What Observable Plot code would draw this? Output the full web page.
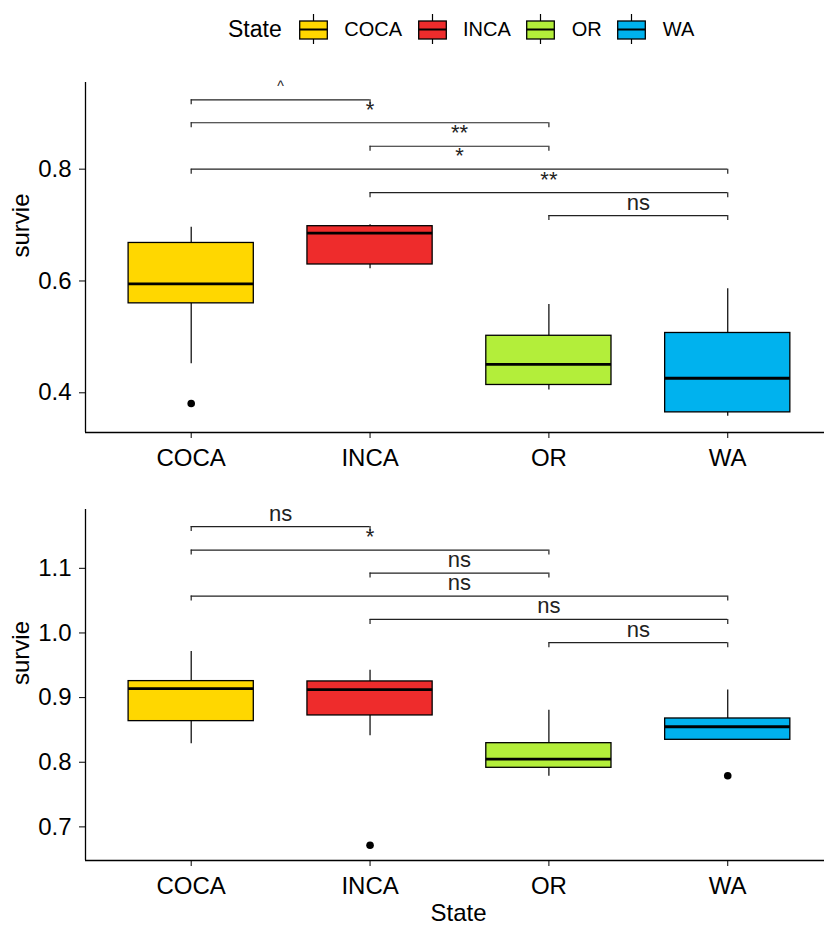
<!DOCTYPE html>
<html>
<head>
<meta charset="utf-8">
<script src="https://cdn.jsdelivr.net/npm/d3@7"></script>
<script src="https://cdn.jsdelivr.net/npm/@observablehq/plot@0.6"></script>
<style>
  body { margin: 0; background: #fff; font-family: "Liberation Sans", Arial, sans-serif; }
  #wrap { position: relative; width: 824px; height: 927px; overflow: hidden; background: #fff; }
  #legend { position: absolute; left: 228px; top: 14px; height: 30px; display: flex; align-items: center; color: #000; }
  #legend .title { font-size: 23px; margin-right: 17px; }
  #legend .lab { font-size: 20px; margin-right: 15.5px; }
  #legend svg { margin-right: 16.5px; display: block; }
  #p1 { position: absolute; left: 0; top: 60px; }
  #p2 { position: absolute; left: 0; top: 480px; }
</style>
</head>
<body>
<div id="wrap">
  <div id="legend"></div>
  <div id="p1"></div>
  <div id="p2"></div>
</div>
<script>
// ---------- data ----------
const states = ["COCA", "INCA", "OR", "WA"];
const colors = ["#FFD700", "#EE2C2C", "#B3EE3A", "#00B2EE"];

// comparisons (brackets), in drawing order from top to bottom
const pairA = ["COCA", "COCA", "INCA", "COCA", "INCA", "OR"];
const pairB = ["INCA", "OR", "OR", "WA", "WA", "WA"];

// Panel 1 box statistics
const p1Low = [0.452, 0.622, 0.405, 0.358];
const p1Q1  = [0.560, 0.6295, 0.414, 0.365];
const p1Med = [0.595, 0.6855, 0.451, 0.426];
const p1Q3  = [0.668, 0.698, 0.502, 0.507];
const p1High = [0.696, 0.7005, 0.558, 0.586];
const p1OutState = ["COCA"];
const p1OutValue = [0.381];
const p1BracketY = [0.924, 0.883, 0.841, 0.800, 0.758, 0.717];
const p1Labels = ["^", "*", "**", "*", "**", "ns"];
const p1Ticks = [0.4, 0.6, 0.8];

// Panel 2 box statistics
const p2Low = [0.8285, 0.841, 0.7784, 0.8347];
const p2Q1  = [0.8636, 0.8724, 0.7914, 0.8347];
const p2Med = [0.914, 0.9122, 0.8047, 0.8549];
const p2Q3  = [0.9255, 0.925, 0.8295, 0.8677];
const p2High = [0.9715, 0.9425, 0.8806, 0.9116];
const p2OutState = ["INCA", "WA"];
const p2OutValue = [0.6715, 0.779];
const p2BracketY = [1.1646, 1.1283, 1.0927, 1.0571, 1.021, 0.985];
const p2Labels = ["ns", "*", "ns", "ns", "ns", "ns"];
const p2Ticks = [0.7, 0.8, 0.9, 1.0, 1.1];

// ---------- drawing ----------
const FONT = '"Liberation Sans", Arial, sans-serif';
const xDom = [0.409, 4.541];
const halfBox = 0.35;

function panel(cfg) {
  const rows = states.map((s, i) => ({
    pos: i + 1, state: s,
    lo: cfg.lo[i], q1: cfg.q1[i], med: cfg.med[i], q3: cfg.q3[i], hi: cfg.hi[i]
  }));
  const outs = cfg.outState.map((s, k) => ({ pos: states.indexOf(s) + 1, value: cfg.outValue[k] }));
  const br = pairA.map((a, k) => ({
    a: states.indexOf(a) + 1, b: states.indexOf(pairB[k]) + 1,
    y: cfg.brY[k], label: cfg.labels[k]
  }));
  const small = br.filter(d => d.label === "^");
  const big = br.filter(d => d.label !== "^");
  const marks = [
    // whiskers
    Plot.ruleX(rows, { x: "pos", y1: "q3", y2: "hi", stroke: "black", strokeWidth: 1.2 }),
    Plot.ruleX(rows, { x: "pos", y1: "lo", y2: "q1", stroke: "black", strokeWidth: 1.2 }),
    // boxes
    Plot.rect(rows, { x1: d => d.pos - halfBox, x2: d => d.pos + halfBox, y1: "q1", y2: "q3",
      fill: "state", stroke: "black", strokeWidth: 1.3 }),
    // medians
    Plot.ruleY(rows, { y: "med", x1: d => d.pos - halfBox, x2: d => d.pos + halfBox, stroke: "black", strokeWidth: 2.8 }),
    // outliers
    Plot.dot(outs, { x: "pos", y: "value", r: 3.8, fill: "black", stroke: null }),
    // brackets
    Plot.ruleY(br, { y: "y", x1: "a", x2: "b", stroke: "#222", strokeWidth: 1.2 }),
    Plot.ruleX(br, { x: "a", y1: "y", y2: d => d.y - cfg.tip, stroke: "#222", strokeWidth: 1.2 }),
    Plot.ruleX(br, { x: "b", y1: "y", y2: d => d.y - cfg.tip, stroke: "#222", strokeWidth: 1.2 }),
    Plot.text(big, { x: d => (d.a + d.b) / 2, y: "y", text: "label", fontSize: 22, dy: -13, fill: "#222" }),
    Plot.text(small, { x: d => (d.a + d.b) / 2, y: "y", text: "label", fontSize: 14, dy: -13, fill: "#222" }),
    // axis lines
    Plot.ruleY([cfg.yDom[0]], { stroke: "black", strokeWidth: 1.3 }),
    Plot.ruleX([xDom[0]], { stroke: "black", strokeWidth: 1.3 }),
    Plot.axisY({ ticks: cfg.ticks, tickFormat: ".1f", tickSize: 6, tickPadding: 8, fontSize: 24, label: null }),
    Plot.axisX({ ticks: [1, 2, 3, 4], tickFormat: d => states[d - 1], tickSize: 6, tickPadding: 10, fontSize: 24, label: null }),
    Plot.text(["survie"], { frameAnchor: "left", rotate: -90, dx: -64, fontSize: 24, fill: "black" })
  ];
  if (cfg.xTitle) {
    marks.push(Plot.text([cfg.xTitle], { frameAnchor: "bottom", dx: 3.5, dy: 60, fontSize: 24, fill: "black" }));
  }
  return Plot.plot({
    width: 824, height: cfg.height,
    marginLeft: 85, marginRight: 0, marginTop: cfg.mt, marginBottom: cfg.mb,
    x: { type: "linear", domain: xDom },
    y: { domain: cfg.yDom },
    color: { domain: states, range: colors },
    style: { fontFamily: FONT, color: "black", background: "white", overflow: "visible" },
    marks
  });
}

document.getElementById("p1").appendChild(panel({
  lo: p1Low, q1: p1Q1, med: p1Med, q3: p1Q3, hi: p1High,
  outState: p1OutState, outValue: p1OutValue,
  brY: p1BracketY, labels: p1Labels, ticks: p1Ticks,
  yDom: [0.329, 0.955], tip: 0.009,
  height: 420, mt: 22, mb: 48
}));

document.getElementById("p2").appendChild(panel({
  lo: p2Low, q1: p2Q1, med: p2Med, q3: p2Q3, hi: p2High,
  outState: p2OutState, outValue: p2OutValue,
  brY: p2BracketY, labels: p2Labels, ticks: p2Ticks,
  yDom: [0.648, 1.191], tip: 0.0078,
  height: 447, mt: 29, mb: 67, xTitle: "State"
}));

// ---------- legend ----------
const legend = d3.select("#legend");
legend.append("span").attr("class", "title").text("State");
states.forEach((s, i) => {
  const svg = legend.append("svg").attr("width", 29).attr("height", 30);
  svg.append("line").attr("x1", 14.5).attr("x2", 14.5).attr("y1", 0).attr("y2", 30)
    .attr("stroke", "black").attr("stroke-width", 1.2);
  svg.append("rect").attr("x", 0.7).attr("y", 7).attr("width", 27.6).attr("height", 18)
    .attr("fill", colors[i]).attr("stroke", "black").attr("stroke-width", 1.3);
  svg.append("line").attr("x1", 0.7).attr("x2", 28.3).attr("y1", 15.5).attr("y2", 15.5)
    .attr("stroke", "black").attr("stroke-width", 2);
  legend.append("span").attr("class", "lab").text(s);
});
</script>
</body>
</html>
